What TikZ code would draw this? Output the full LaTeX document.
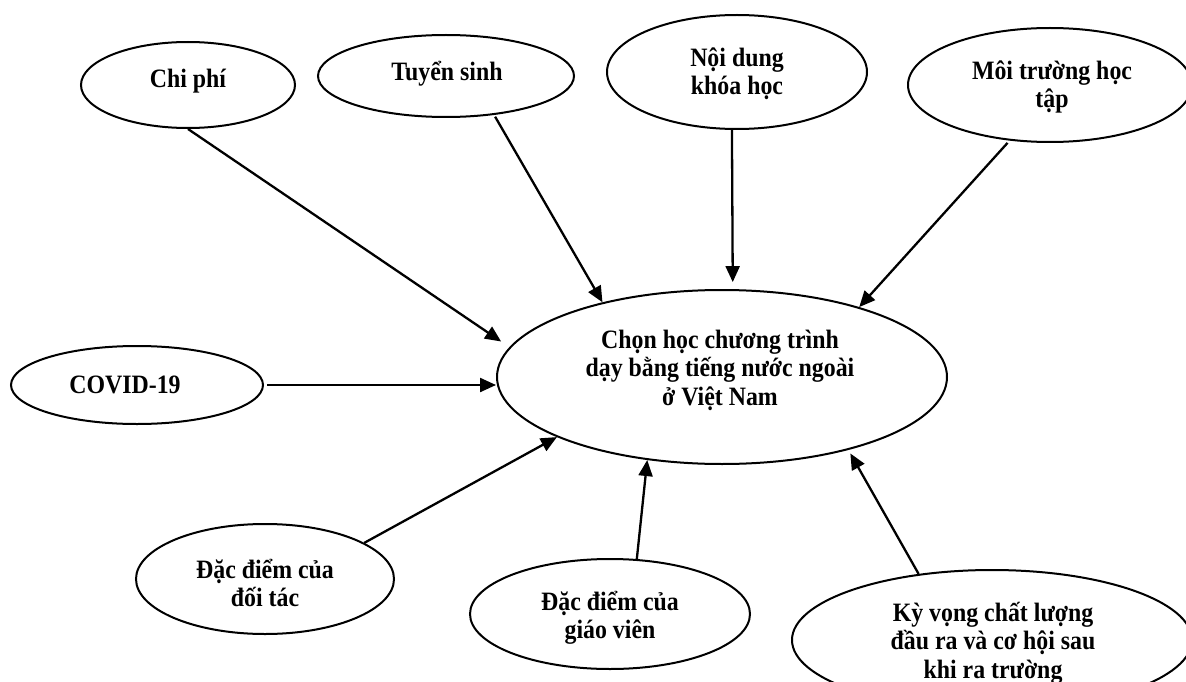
\documentclass[tikz,border=0pt]{standalone}
\usepackage{fontspec}
\setmainfont{Liberation Serif}[FakeStretch=0.9]
\usetikzlibrary{shapes.geometric,arrows.meta}
\tikzset{
  ell/.style={draw, ellipse, line width=2pt, inner sep=0pt},
  lbl/.style={font=\fontsize{26.5pt}{28.5pt}\selectfont\bfseries, align=center, inner sep=0pt},
  conn/.style={line width=2.3pt, -{Triangle[length=16pt,width=14pt]}}
}
\begin{document}
\begin{tikzpicture}[x=1pt,y=-1pt]
\clip (0,0) rectangle (1186,682);
% ellipses
\node[ell, minimum width=450pt, minimum height=174pt] (main) at (722,377) {};
\node[ell, minimum width=214pt, minimum height=86pt] (chiphi) at (188,85) {};
\node[ell, minimum width=256pt, minimum height=82pt] (tuyensinh) at (446,76) {};
\node[ell, minimum width=260pt, minimum height=114pt] (noidung) at (737,72) {};
\node[ell, minimum width=284pt, minimum height=114pt] (moitruong) at (1050,85) {};
\node[ell, minimum width=252pt, minimum height=78pt] (covid) at (137,385) {};
\node[ell, minimum width=258pt, minimum height=110pt] (doitac) at (265,579) {};
\node[ell, minimum width=280pt, minimum height=110pt] (giaovien) at (610,614) {};
\node[ell, minimum width=400pt, minimum height=140pt] (kyvong) at (992,640) {};
% texts
\node[lbl] (main-t) at (720,370) {Chọn học chương trình\\dạy bằng tiếng nước ngoài\\ở Việt Nam};
\node[lbl] (chiphi-t) at (188,81) {Chi phí};
\node[lbl] (tuyensinh-t) at (447,74) {Tuyển sinh};
\node[lbl] (noidung-t) at (737,74) {Nội dung\\khóa học};
\node[lbl] (moitruong-t) at (1052,87) {Môi trường học\\tập};
\node[lbl] (covid-t) at (125,385) {COVID-19};
\node[lbl] (doitac-t) at (265,583) {Đặc điểm của\\đối tác};
\node[lbl] (giaovien-t) at (610,618) {Đặc điểm của\\giáo viên};
\node[lbl] (kyvong-t) at (993,643) {Kỳ vọng chất lượng\\đầu ra và cơ hội sau\\khi ra trường};
% connectors
\draw[conn, shorten >=10pt] (chiphi.south) -- (main.172.3);
\draw[conn, shorten <=2pt] (tuyensinh.-39) -- (main.148.7);
\draw[conn, shorten >=7pt] (noidung.-95) -- (main.83);
\draw[conn, shorten <=3pt] (moitruong.-126.6) -- (main.27.2);
\draw[conn, shorten <=3pt] (covid.east) -- (covid.east -| main.west);
\draw[conn] (doitac.20.7) -- (main.-160);
\draw[conn] (giaovien.64.3) -- (main.-132.8);
\draw[conn, shorten >=4pt] (kyvong.138.8) -- (main.-30.8);
\end{tikzpicture}
\end{document}
